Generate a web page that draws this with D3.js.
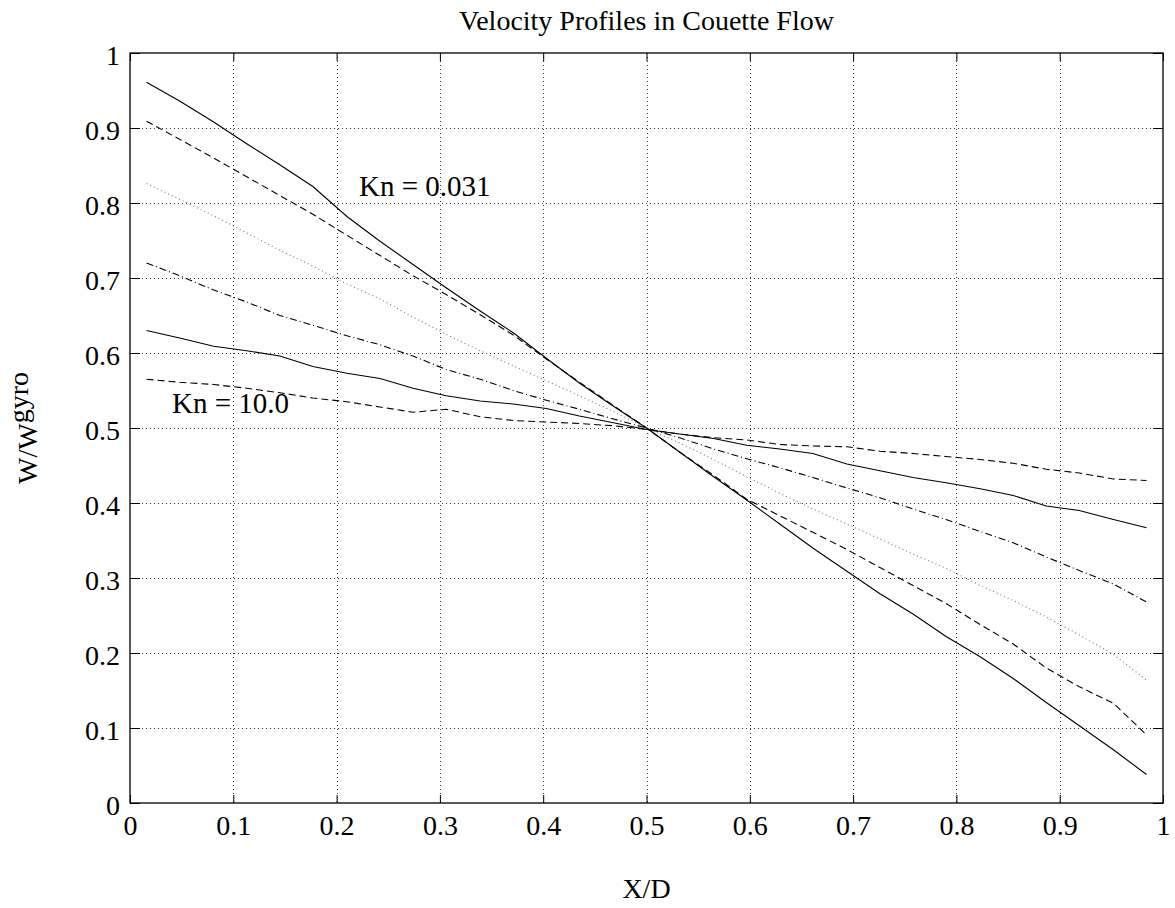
<!DOCTYPE html>
<html lang="en">
<head>
    <meta charset="UTF-8">
    <title>Velocity Profiles in Couette Flow</title>
    <script src="https://d3js.org/d3.v7.min.js"></script>
    <style>
        body { margin: 0; background: #fff; }
        text { font-family: "Liberation Serif", "Times New Roman", serif; fill: #000; }
    </style>
</head>
<body>
<div id="chart-container"></div>
<script>

    // X/D positions of the samples (same for every profile)
    const xPos = [0.016, 0.048, 0.081, 0.113, 0.145, 0.177, 0.210, 0.242, 0.274, 0.306, 0.339,
                  0.371, 0.403, 0.435, 0.468, 0.500, 0.532, 0.565, 0.597, 0.629, 0.661, 0.694,
                  0.726, 0.758, 0.790, 0.823, 0.855, 0.887, 0.919, 0.952, 0.984];

    // W/Wgyro, from the lowest Knudsen number (steepest) to Kn = 10.0 (flattest)
    const solidSteep = [0.961, 0.936, 0.908, 0.879, 0.851, 0.822, 0.782, 0.749, 0.718, 0.687, 0.656,
                        0.627, 0.593, 0.560, 0.529, 0.500, 0.468, 0.435, 0.404, 0.372, 0.340, 0.309,
                        0.279, 0.252, 0.222, 0.195, 0.166, 0.134, 0.103, 0.071, 0.038];
    const dashedSteep = [0.909, 0.885, 0.860, 0.835, 0.810, 0.785, 0.757, 0.730, 0.703, 0.678, 0.651,
                         0.624, 0.592, 0.561, 0.530, 0.500, 0.468, 0.437, 0.405, 0.383, 0.361, 0.338,
                         0.314, 0.290, 0.266, 0.238, 0.212, 0.180, 0.155, 0.133, 0.091];
    const dotted = [0.826, 0.805, 0.783, 0.760, 0.737, 0.716, 0.692, 0.672, 0.648, 0.625, 0.603,
                    0.583, 0.563, 0.543, 0.522, 0.500, 0.480, 0.458, 0.435, 0.413, 0.392, 0.372,
                    0.352, 0.332, 0.313, 0.290, 0.270, 0.248, 0.224, 0.198, 0.164];
    const dashDot = [0.720, 0.703, 0.684, 0.668, 0.650, 0.637, 0.623, 0.611, 0.596, 0.578, 0.565,
                     0.550, 0.537, 0.525, 0.512, 0.500, 0.487, 0.472, 0.459, 0.447, 0.434, 0.420,
                     0.407, 0.392, 0.378, 0.362, 0.347, 0.328, 0.310, 0.292, 0.268];
    const solidFlat = [0.630, 0.620, 0.609, 0.603, 0.596, 0.582, 0.573, 0.566, 0.553, 0.543, 0.536,
                       0.532, 0.526, 0.516, 0.507, 0.498, 0.492, 0.486, 0.477, 0.472, 0.466, 0.452,
                       0.443, 0.434, 0.427, 0.419, 0.410, 0.396, 0.390, 0.378, 0.367];
    const dashedFlat = [0.565, 0.561, 0.558, 0.553, 0.547, 0.540, 0.535, 0.528, 0.521, 0.525, 0.515,
                        0.510, 0.508, 0.506, 0.503, 0.498, 0.492, 0.487, 0.484, 0.478, 0.476, 0.475,
                        0.469, 0.466, 0.462, 0.458, 0.453, 0.445, 0.440, 0.432, 0.430];

    const xTicks = [0, 0.1, 0.2, 0.3, 0.4, 0.5, 0.6, 0.7, 0.8, 0.9, 1];
    const yTicks = [0, 0.1, 0.2, 0.3, 0.4, 0.5, 0.6, 0.7, 0.8, 0.9, 1];

    const profiles = [
        {values: solidSteep, dash: null, color: '#000'},
        {values: dashedSteep, dash: '7,4', color: '#000'},
        {values: dotted, dash: '1,3', color: '#777'},
        {values: dashDot, dash: '7,3,1,3', color: '#000'},
        {values: solidFlat, dash: null, color: '#000'},
        {values: dashedFlat, dash: '7,4', color: '#000'}
    ];

    const width = 1175, height = 908;
    const plotLeft = 130, plotRight = 1163, plotTop = 53, plotBottom = 803;

    const x = d3.scaleLinear().domain([0, 1]).range([plotLeft, plotRight]);
    const y = d3.scaleLinear().domain([0, 1]).range([plotBottom, plotTop]);
    const fmt = d => d3.format('~g')(d);

    const svg = d3.select('#chart-container')
        .append('svg')
        .attr('width', width)
        .attr('height', height)
        .style('background', '#fff');

    // dotted grid
    const grid = svg.append('g').attr('class', 'grid')
        .attr('stroke', '#333')
        .attr('stroke-width', 1)
        .attr('stroke-dasharray', '1,3')
        .attr('shape-rendering', 'crispEdges');

    grid.selectAll('.vgrid')
        .data(xTicks.slice(1, -1))
        .enter()
        .append('line')
        .attr('x1', d => Math.round(x(d)) + 0.5)
        .attr('x2', d => Math.round(x(d)) + 0.5)
        .attr('y1', plotTop)
        .attr('y2', plotBottom);

    grid.selectAll('.hgrid')
        .data(yTicks.slice(1, -1))
        .enter()
        .append('line')
        .attr('y1', d => Math.round(y(d)) + 0.5)
        .attr('y2', d => Math.round(y(d)) + 0.5)
        .attr('x1', plotLeft)
        .attr('x2', plotRight);

    // axes: ticks point into the plot, on all four sides
    const styleAxis = g => {
        g.select('.domain').remove();
        g.selectAll('line').attr('stroke', '#000').attr('stroke-width', 1);
        g.selectAll('text').style('font-size', '28px')
            .style('font-family', '"Liberation Serif", "Times New Roman", serif');
    };

    svg.append('g')
        .attr('transform', `translate(0,${plotBottom})`)
        .call(d3.axisBottom(x).tickValues(xTicks).tickSize(-8).tickPadding(12).tickFormat(fmt))
        .call(styleAxis);

    svg.append('g')
        .attr('transform', `translate(0,${plotTop})`)
        .call(d3.axisTop(x).tickValues(xTicks).tickSize(-8).tickFormat(''))
        .call(styleAxis);

    svg.append('g')
        .attr('transform', `translate(${plotLeft},0)`)
        .call(d3.axisLeft(y).tickValues(yTicks).tickSize(-10).tickPadding(10).tickFormat(fmt))
        .call(styleAxis)
        .call(g => g.selectAll('text').attr('dy', '0.4em'));

    svg.append('g')
        .attr('transform', `translate(${plotRight},0)`)
        .call(d3.axisRight(y).tickValues(yTicks).tickSize(-10).tickFormat(''))
        .call(styleAxis);

    // box
    svg.append('rect')
        .attr('x', plotLeft)
        .attr('y', plotTop)
        .attr('width', plotRight - plotLeft)
        .attr('height', plotBottom - plotTop)
        .attr('fill', 'none')
        .attr('stroke', '#000')
        .attr('stroke-width', 1.3);

    const line = d3.line()
        .x((d, i) => x(xPos[i]))
        .y(d => y(d));

    svg.append('g')
        .selectAll('path')
        .data(profiles)
        .enter()
        .append('path')
        .attr('d', d => line(d.values))
        .attr('fill', 'none')
        .attr('stroke', d => d.color)
        .attr('stroke-width', 1.1)
        .attr('stroke-dasharray', d => d.dash);

    // annotations
    svg.append('text')
        .attr('x', 359)
        .attr('y', 196)
        .style('font-size', '29px')
        .text('Kn = 0.031');

    svg.append('text')
        .attr('x', 172)
        .attr('y', 413)
        .style('font-size', '29px')
        .text('Kn = 10.0');

    // title and axis labels
    svg.append('text')
        .attr('x', (plotLeft + plotRight) / 2)
        .attr('y', 30)
        .attr('text-anchor', 'middle')
        .style('font-size', '28px')
        .text('Velocity Profiles in Couette Flow');

    svg.append('text')
        .attr('x', (plotLeft + plotRight) / 2)
        .attr('y', 898)
        .attr('text-anchor', 'middle')
        .style('font-size', '28px')
        .text('X/D');

    const yLabel = svg.append('text')
        .attr('transform', `translate(37,${(plotTop + plotBottom) / 2}) rotate(-90)`)
        .attr('text-anchor', 'middle')
        .style('font-size', '28px');
    yLabel.append('tspan').text('W/W');
    yLabel.append('tspan').attr('dy', -9).text('gyro');

</script>
</body>
</html>
